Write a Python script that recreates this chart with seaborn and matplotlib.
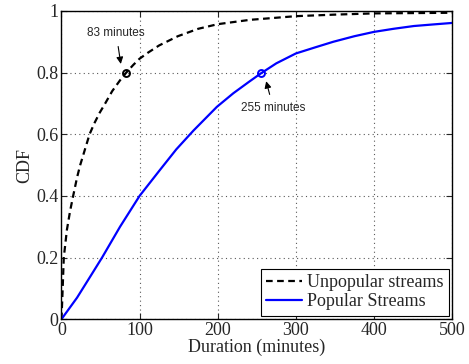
import numpy as np
import pandas as pd
import matplotlib
matplotlib.use("Agg")
import matplotlib.pyplot as plt
import seaborn as sns

# --- Data ---
unpop_minutes = [0, 1, 3, 7, 11, 15, 20, 24, 30, 36, 42, 49, 56, 65, 75, 83, 92, 100, 111, 125,
                 149, 175, 200, 241, 300, 350, 400, 450, 500]
unpop_cdf = [0, 0.06, 0.2, 0.29, 0.35, 0.4, 0.46, 0.5, 0.55, 0.6, 0.635, 0.67, 0.7, 0.74, 0.775, 0.8,
             0.825, 0.845, 0.865, 0.888, 0.918, 0.942, 0.957, 0.971, 0.983, 0.988, 0.992, 0.993, 0.994]

pop_minutes = [0, 20, 38.5, 52, 75, 100, 126, 147, 169, 199, 220, 240, 255, 275, 300, 325,
               348, 375, 400, 425, 451, 475, 500]
pop_cdf = [0, 0.07, 0.145, 0.2, 0.3, 0.4, 0.484, 0.551, 0.612, 0.689, 0.733, 0.77, 0.797, 0.83,
           0.862, 0.882, 0.9, 0.918, 0.932, 0.942, 0.951, 0.956, 0.961]

marks = {"83 minutes": (83, 0.8, "black"), "255 minutes": (255, 0.8, "blue")}

df = pd.concat([
    pd.DataFrame({"Duration": unpop_minutes, "CDF": unpop_cdf, "Series": "Unpopular streams"}),
    pd.DataFrame({"Duration": pop_minutes, "CDF": pop_cdf, "Series": "Popular Streams"}),
])

sns.set_style("ticks")
plt.rcParams["font.family"] = ["Liberation Serif", "DejaVu Serif"]

fig = plt.figure(figsize=(4.69, 3.64), dpi=100)
ax = fig.add_axes([0.131, 0.123, 0.833, 0.847])

sns.lineplot(data=df, x="Duration", y="CDF", hue="Series", style="Series",
             palette={"Unpopular streams": "black", "Popular Streams": "blue"},
             dashes={"Unpopular streams": (3, 2), "Popular Streams": ""},
             linewidth=1.6, ax=ax, legend=True)

for label, (mx, my, c) in marks.items():
    ax.plot(mx, my, "o", mfc="none", mec=c, ms=5, mew=1.4)

sans = ["Liberation Sans", "DejaVu Sans"]
ax.annotate("83 minutes", xy=(76, 0.828), xytext=(70, 0.928), ha="center", va="center",
            fontsize=8.5, family=sans,
            arrowprops=dict(arrowstyle="-|>", color="black", lw=0.8, mutation_scale=10,
                            shrinkA=3, shrinkB=0))
ax.annotate("255 minutes", xy=(262, 0.772), xytext=(271, 0.686), ha="center", va="center",
            fontsize=8.5, family=sans,
            arrowprops=dict(arrowstyle="-|>", color="black", lw=0.8, mutation_scale=10,
                            shrinkA=3, shrinkB=0))

ax.set_xlim(0, 500)
ax.set_ylim(0, 1)
ax.set_xticks([0, 100, 200, 300, 400, 500])
ax.set_yticks([0, 0.2, 0.4, 0.6, 0.8, 1])
ax.set_yticklabels(["0", "0.2", "0.4", "0.6", "0.8", "1"])
ax.set_xlabel("Duration (minutes)", fontsize=13, labelpad=0)
ax.set_ylabel("CDF", fontsize=13, labelpad=2)
ax.tick_params(direction="in", labelsize=13, top=True, right=True, length=4, width=0.8, pad=2)
for s in ax.spines.values():
    s.set_linewidth(1.0)
    s.set_color("black")
ax.grid(True, linestyle=(0, (1, 3)), color="0.35", linewidth=0.8)

leg = ax.legend(loc="lower right", fontsize=13, frameon=True, fancybox=False,
                edgecolor="black", framealpha=1, borderaxespad=0.2,
                handlelength=2.0, handletextpad=0.25, borderpad=0.3, labelspacing=0.1)
leg.get_frame().set_linewidth(0.8)

fig.savefig("out.png", dpi=100)
